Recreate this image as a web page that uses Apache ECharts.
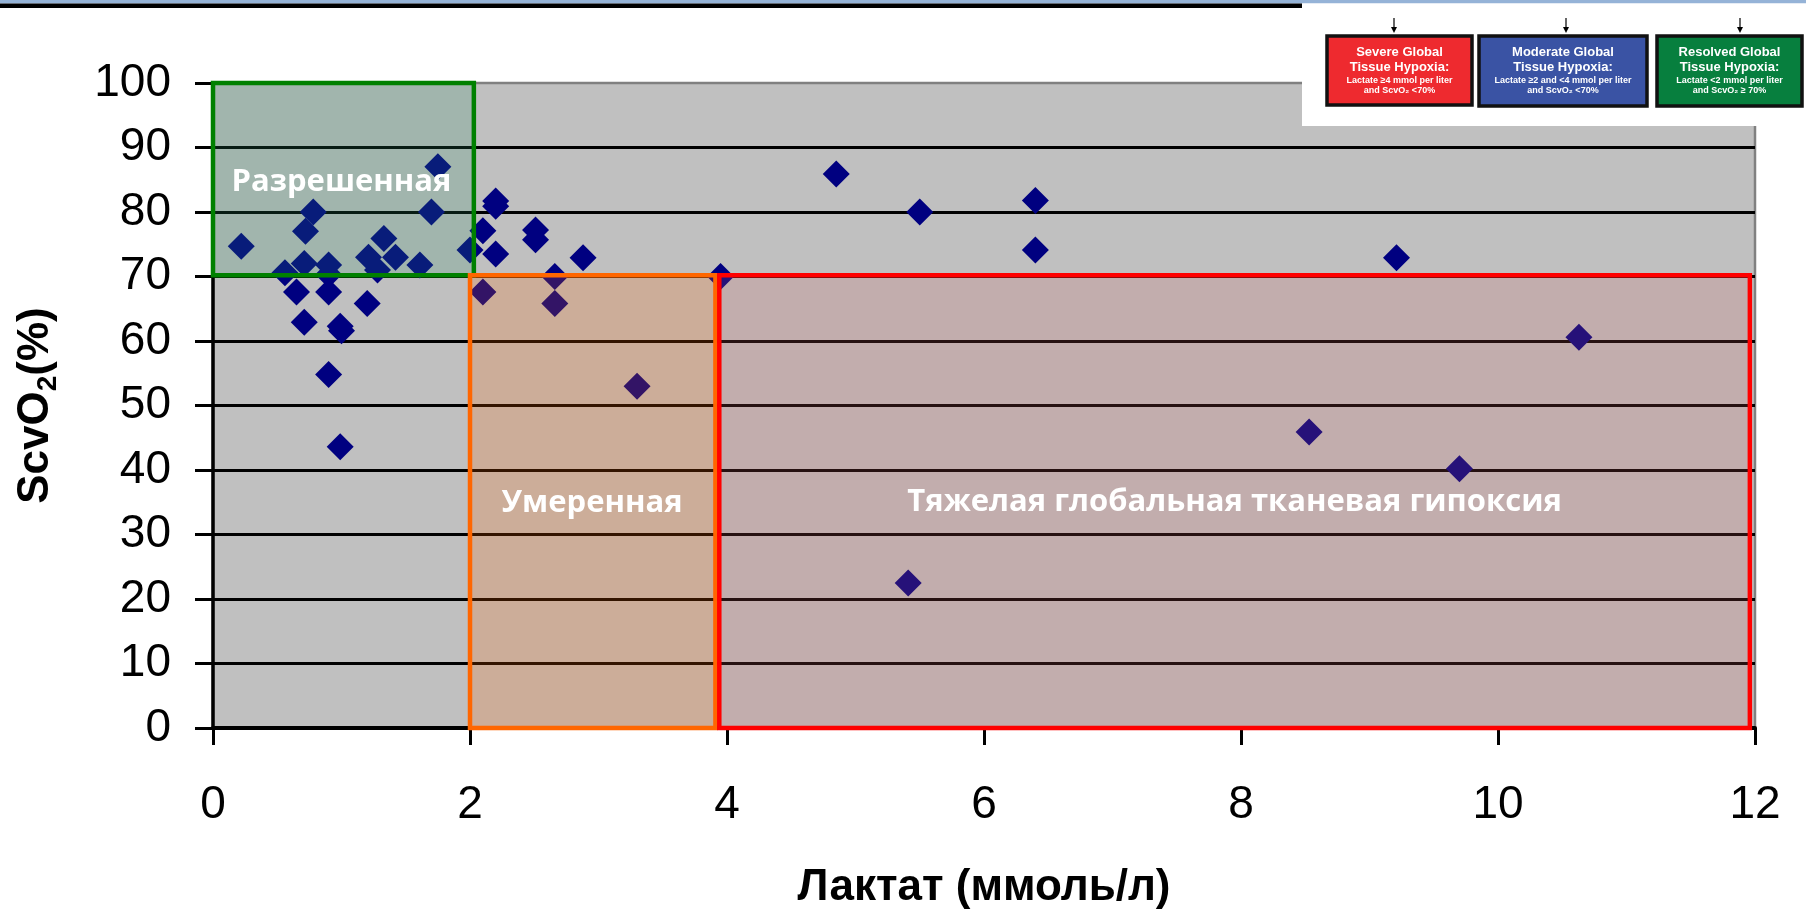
<!DOCTYPE html>
<html><head><meta charset="utf-8">
<script src="https://cdn.jsdelivr.net/npm/echarts@6/dist/echarts.min.js"></script>
<style>html,body{margin:0;padding:0;background:#fff;}#c{width:1806px;height:910px;}</style>
</head><body><div id="c"></div>
<script>
// ---- data ----
const lactate = [0.22,0.78,0.72,0.56,0.71,0.90,0.90,0.65,0.90,1.20,0.71,0.99,1.00,0.90,0.99,
  1.33,1.21,1.42,1.28,1.61,1.70,1.75,2.20,2.20,2.10,2.00,2.20,2.51,2.51,2.88,2.66,2.10,2.66,3.30,3.95,
  4.85,5.50,6.40,6.40,5.41,9.21,8.53,9.70,10.63];
const scvo2 = [74.7,80.0,77.0,70.6,72.0,71.8,70.3,67.6,67.6,65.8,62.9,62.3,61.6,54.8,43.6,
  75.9,73.0,73.0,71.0,71.8,80.0,87.0,81.7,80.9,77.1,74.1,73.5,77.2,75.7,72.9,70.0,67.6,65.8,53.0,70.0,
  85.9,80.0,81.8,74.1,22.5,72.9,45.9,40.2,60.6];
const xTickValues = [0,2,4,6,8,10,12];
const yTickValues = [0,10,20,30,40,50,60,70,80,90,100];

// zones: lactate from/to, ScvO2 from/to
const zoneNames = ['Разрешенная','Умеренная','Тяжелая глобальная тканевая гипоксия'];
const zoneLactFrom = [0, 2.0, 3.94];
const zoneLactTo   = [2.03, 3.91, 11.96];
const zoneScvFrom  = [70.2, 0, 0];
const zoneScvTo    = [100, 70.2, 70.2];
const zoneLabelAt  = [[1.0, 84.6],[2.95, 34.8],[7.95, 35.0]];

// legend image texts
const legendTitles = ['Severe Global','Moderate Global','Resolved Global'];
const legendSub = 'Tissue Hypoxia:';
const legendDetail1 = ['Lactate \u22654 mmol per liter','Lactate \u22652 and <4 mmol per liter','Lactate <2 mmol per liter'];
const legendDetail2 = ['and ScvO\u2082 <70%','and ScvO\u2082 <70%','and ScvO\u2082 \u2265 70%'];

// ---- styles / layout ----
const zoneFill = ['rgba(40,140,100,0.2)','rgba(255,102,0,0.2)','rgba(200,90,90,0.19)'];
const zoneStroke = ['#008000','#FF6600','#FF0000'];
const legendBoxes = [
  {x:1327,y:36,w:145,h:69,fill:'#EE2A2F',ax:1394},
  {x:1479,y:36,w:168,h:70,fill:'#3A53A4',ax:1566},
  {x:1657,y:36,w:145,h:70,fill:'#077F3E',ax:1740}
];

const zones = zoneNames.map((n,i)=>[zoneLactFrom[i], zoneScvFrom[i], zoneLactTo[i], zoneScvTo[i]]);
const points = lactate.map((v,i)=>[v, scvo2[i]]);

const chart = echarts.init(document.getElementById('c'), null, {renderer:'canvas'});

const graphics = [
  {type:'rect', z:100, shape:{x:0,y:0,width:1806,height:3.5}, style:{fill:'#95B3D7'}},
  {type:'rect', z:100, shape:{x:0,y:3.5,width:1302,height:4.5}, style:{fill:'#000'}},
  {type:'rect', z:100, shape:{x:1302,y:3.5,width:504,height:122.5}, style:{fill:'#fff'}}
];
legendBoxes.forEach((b,i)=>{
  graphics.push({type:'rect', z:101, shape:{x:b.x,y:b.y,width:b.w,height:b.h}, style:{fill:b.fill, stroke:'#111', lineWidth:3.5}});
  const cx = b.x + b.w/2;
  const t = (txt, y, size) => ({type:'text', z:102, x:cx, y:y, style:{text:txt, fill:'#fff', fontFamily:'Liberation Sans, Arial', fontWeight:'bold', fontSize:size, align:'center', verticalAlign:'middle'}});
  graphics.push(t(legendTitles[i], b.y+16, 13));
  graphics.push(t(legendSub, b.y+31, 13));
  graphics.push(t(legendDetail1[i], b.y+45, 9));
  graphics.push(t(legendDetail2[i], b.y+55, 9));
  graphics.push({type:'line', z:102, shape:{x1:b.ax,y1:18,x2:b.ax,y2:31}, style:{stroke:'#000', lineWidth:1.2}});
  graphics.push({type:'polygon', z:102, shape:{points:[[b.ax-3,27],[b.ax+3,27],[b.ax,33]]}, style:{fill:'#000'}});
});

const option = {
  animation:false,
  backgroundColor:'#fff',
  grid:{left:213,right:51,top:83,bottom:182,containLabel:false,outerBoundsMode:'none',
        show:true,backgroundColor:'#C0C0C0',borderColor:'#808080',borderWidth:2.5},
  xAxis:{type:'value',min:0,max:12,interval:2,
    name:'Лактат (ммоль/л)',nameLocation:'middle',nameGap:138,
    nameTextStyle:{fontSize:44,fontWeight:'bold',fontFamily:'Liberation Sans, Arial',color:'#000'},
    axisLine:{show:true,lineStyle:{color:'#000',width:4}},
    axisTick:{show:true,inside:false,length:17,lineStyle:{color:'#000',width:3}},
    axisLabel:{fontSize:46,fontFamily:'Liberation Sans, Arial',color:'#000',margin:54,
      formatter:v=>xTickValues.includes(v)?String(v):''},
    splitLine:{show:false}},
  yAxis:{type:'value',min:0,max:100,interval:10,
    name:'{a|ScvO}{s|2}{a|(%)}',nameLocation:'middle',nameGap:155,nameRotate:90,
    nameTextStyle:{rich:{
      a:{fontSize:44,fontWeight:'bold',fontFamily:'Liberation Sans, Arial',color:'#000'},
      s:{fontSize:28,fontWeight:'bold',fontFamily:'Liberation Sans, Arial',color:'#000',verticalAlign:'bottom',padding:[0,0,-4,0]}}},
    axisLine:{show:true,lineStyle:{color:'#000',width:3.5}},
    axisTick:{show:true,inside:false,length:18,lineStyle:{color:'#000',width:3}},
    axisLabel:{fontSize:46,fontFamily:'Liberation Sans, Arial',color:'#000',margin:42,
      formatter:v=>yTickValues.includes(v)?String(v):''},
    splitLine:{show:true,showMaxLine:false,lineStyle:{color:'#000',width:3}}},
  series:[
    {type:'scatter',z:2,data:points,symbol:'diamond',symbolSize:27,
     itemStyle:{color:'#000080',opacity:1}},
    {type:'custom',z:3,clip:false,data:zones,
     renderItem:function(params, api){
       const i = params.dataIndex;
       const p0 = api.coord([api.value(0), api.value(3)]);
       const p1 = api.coord([api.value(2), api.value(1)]);
       const lab = api.coord(zoneLabelAt[i]);
       return {type:'group', children:[
         {type:'rect', shape:{x:p0[0],y:p0[1],width:p1[0]-p0[0],height:p1[1]-p0[1]},
          style:{fill:zoneFill[i],stroke:zoneStroke[i],lineWidth:4.5}},
         {type:'text', x:lab[0], y:lab[1], z2:10,
          style:{text:zoneNames[i],fill:'#fff',fontFamily:'Open Sans',fontWeight:'bold',fontSize:31,
                 align:'center',verticalAlign:'middle'}}
       ]};
     }}
  ],
  graphic:graphics
};
chart.setOption(option);
</script></body></html>
